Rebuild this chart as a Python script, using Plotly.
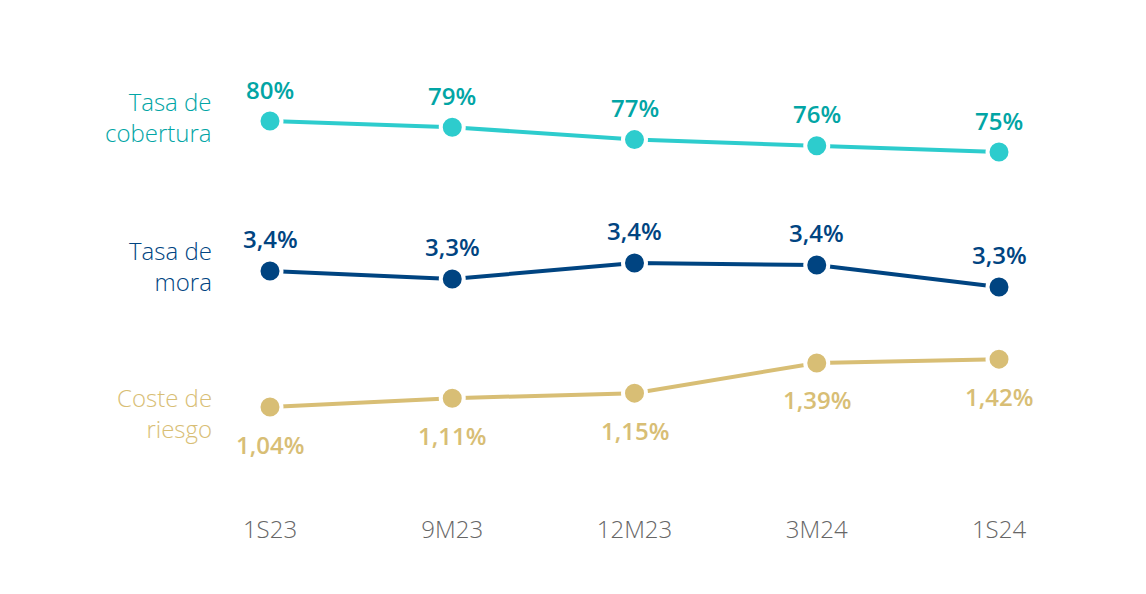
import plotly.graph_objects as go

periods = ["1S23", "9M23", "12M23", "3M24", "1S24"]
cobertura = [80, 79, 77, 76, 75]
mora = [3.37, 3.33, 3.41, 3.40, 3.29]
coste = [1.04, 1.11, 1.15, 1.39, 1.42]

cobertura_labels = ["80%", "79%", "77%", "76%", "75%"]
mora_labels = ["3,4%", "3,3%", "3,4%", "3,4%", "3,3%"]
coste_labels = ["1,04%", "1,11%", "1,15%", "1,39%", "1,42%"]

C_COB = "#2DCCCD"
C_COB_TXT = "#02A5A5"
C_MORA = "#004481"
C_COSTE = "#D8BE75"
GRAY = "#666666"

x = list(range(len(periods)))

FONT = "Open Sans"

fig = go.Figure()

def add_series(vals, labels, color, txtcolor, yaxis, shift):
    fig.add_trace(go.Scatter(
        x=x, y=vals, yaxis=yaxis, mode="lines+markers",
        line=dict(color=color, width=4),
        marker=dict(size=23, color=color, line=dict(color="white", width=4)),
        cliponaxis=False, showlegend=False, hoverinfo="skip",
    ))
    for xi, v, t in zip(x, vals, labels):
        fig.add_annotation(
            x=xi, y=v, xref="x", yref=yaxis, text=t, showarrow=False,
            xanchor="center", yanchor="middle", yshift=shift,
            font=dict(family=FONT, size=24, color=txtcolor, weight=600),
        )

add_series(cobertura, cobertura_labels, C_COB, C_COB_TXT, "y", 32)
add_series(mora, mora_labels, C_MORA, C_MORA, "y2", 33)
add_series(coste, coste_labels, C_COSTE, C_COSTE, "y3", -37)

yax = dict(visible=False, fixedrange=True, domain=[0, 1])
fig.update_layout(
    width=1146, height=594,
    margin=dict(l=0, r=0, t=0, b=84),
    paper_bgcolor="white", plot_bgcolor="white",
    xaxis=dict(range=[-1.4376, 4.8505], tickmode="array", tickvals=x, ticktext=periods,
               showgrid=False, zeroline=False, showline=False, ticks="",
               ticklabelstandoff=-5,
               tickfont=dict(family=FONT, size=24, color=GRAY, weight=300)),
    yaxis=dict(range=[15.968, 98.226], **yax),
    yaxis2=dict(range=[2.135, 4.685], overlaying="y", **yax),
    yaxis3=dict(range=[0.159, 4.207], overlaying="y", **yax),
)

names = [
    ("Tasa de<br>cobertura", 80, "y", C_COB_TXT, -4),
    ("Tasa de<br>mora", 3.37, "y2", C_MORA, -5),
    ("Coste de<br>riesgo", 1.04, "y3", C_COSTE, 6),
]
for txt, v, ya, col, sh in names:
    fig.add_annotation(
        x=-0.308, y=v, xref="x", yref=ya, text=txt, showarrow=False,
        xanchor="right", yanchor="middle", align="right",
        font=dict(family=FONT, size=24, color=col, weight=300),
        yshift=-sh,
    )

fig.write_html("out.html")
